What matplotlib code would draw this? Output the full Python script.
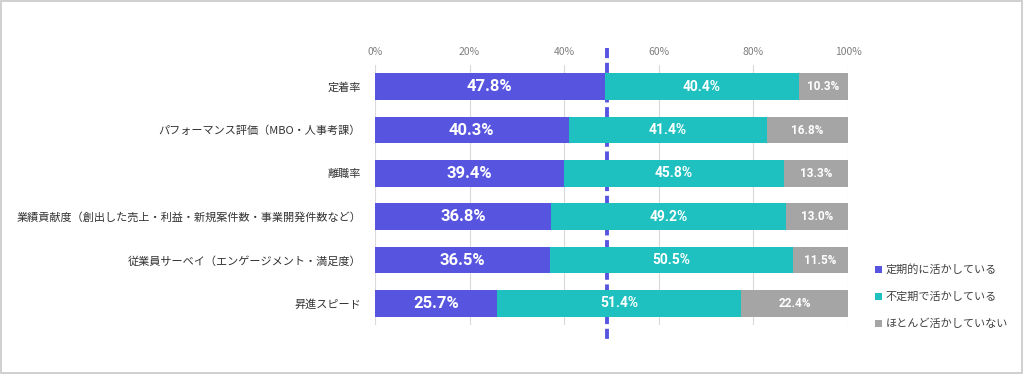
import matplotlib
matplotlib.use("Agg")
from matplotlib import pyplot as plt
from matplotlib.patches import Rectangle

plt.rcParams['font.family'] = ['Noto Sans CJK JP', 'DejaVu Sans']

categories = ['定着率', 'パフォーマンス評価（MBO・人事考課）', '離職率',
              '業績貢献度（創出した売上・利益・新規案件数・事業開発件数など）',
              '従業員サーベイ（エンゲージメント・満足度）', '昇進スピード']
regular = [47.8, 40.3, 39.4, 36.8, 36.5, 25.7]
irregular = [40.4, 41.4, 45.8, 49.2, 50.5, 51.4]
rarely = [10.3, 16.8, 13.3, 13.0, 11.5, 22.4]
series_names = ['定期的に活かしている', '不定期で活かしている', 'ほとんど活かしていない']
ref_line = 49.1

colors = ['#5755E0', '#1FC0C0', '#A5A5A5']
label_sizes = [12, 10, 8.5]

fig = plt.figure(figsize=(10.24, 3.74), dpi=100)
ax = fig.add_axes([0.3662, 0.131, 0.4619, 0.695])

# bars are stretched so each row fills 100% (answers don't add up exactly)
totals = [a + b + c for a, b, c in zip(regular, irregular, rarely)]

y = list(range(len(categories)))
left = [0] * len(categories)
handles = []
for vals, col, name, fs in zip([regular, irregular, rarely], colors, series_names, label_sizes):
    widths = [v / t * 100 for v, t in zip(vals, totals)]
    bars = ax.barh(y, widths, left=left, height=0.62, color=col, label=name, zorder=2)
    handles.append(bars)
    for yi, l, w, v in zip(y, left, widths, vals):
        ax.text(l + w / 2, yi, '%.1f%%' % v, ha='center', va='center',
                color='white', fontsize=fs, fontweight='bold',
                family=['Roboto', 'DejaVu Sans'], zorder=3)
    left = [a + b for a, b in zip(left, widths)]

ax.set_xlim(0, 100)
ax.set_ylim(len(categories) - 0.5, -0.5)
ax.set_xticks([0, 20, 40, 60, 80, 100])
ax.set_xticklabels(['0%', '20%', '40%', '60%', '80%', '100%'])
ax.xaxis.tick_top()
ax.tick_params(axis='x', length=0, labelsize=7.5, labelcolor='#7F7F7F', pad=6)
ax.set_yticks(y)
ax.set_yticklabels(categories)
ax.tick_params(axis='y', length=0, labelsize=8, labelcolor='#333333', pad=10)
ax.grid(axis='x', color='#D9D9D9', linewidth=0.8, zorder=0)
for s in ax.spines.values():
    s.set_visible(False)

# dashed reference line, sits behind the bars and runs past the plot area
ax.plot([ref_line, ref_line], [-0.9, 5.9], color='#5755E0', linewidth=2.8,
        linestyle=(0, (2.6, 1.2)), clip_on=False, zorder=1.5)

leg = fig.legend(handles=handles, loc='upper left', bbox_to_anchor=(0.845, 0.32),
                 frameon=False, fontsize=8, handlelength=0.6, handleheight=0.6,
                 handletextpad=0.3, labelspacing=1.5, labelcolor='#404040')

fig.patches.append(Rectangle((0.001, 0.002), 0.997, 0.995, transform=fig.transFigure,
                             fill=False, edgecolor='#C8C8C8', linewidth=1.2))

fig.savefig('out.png', dpi=100)
